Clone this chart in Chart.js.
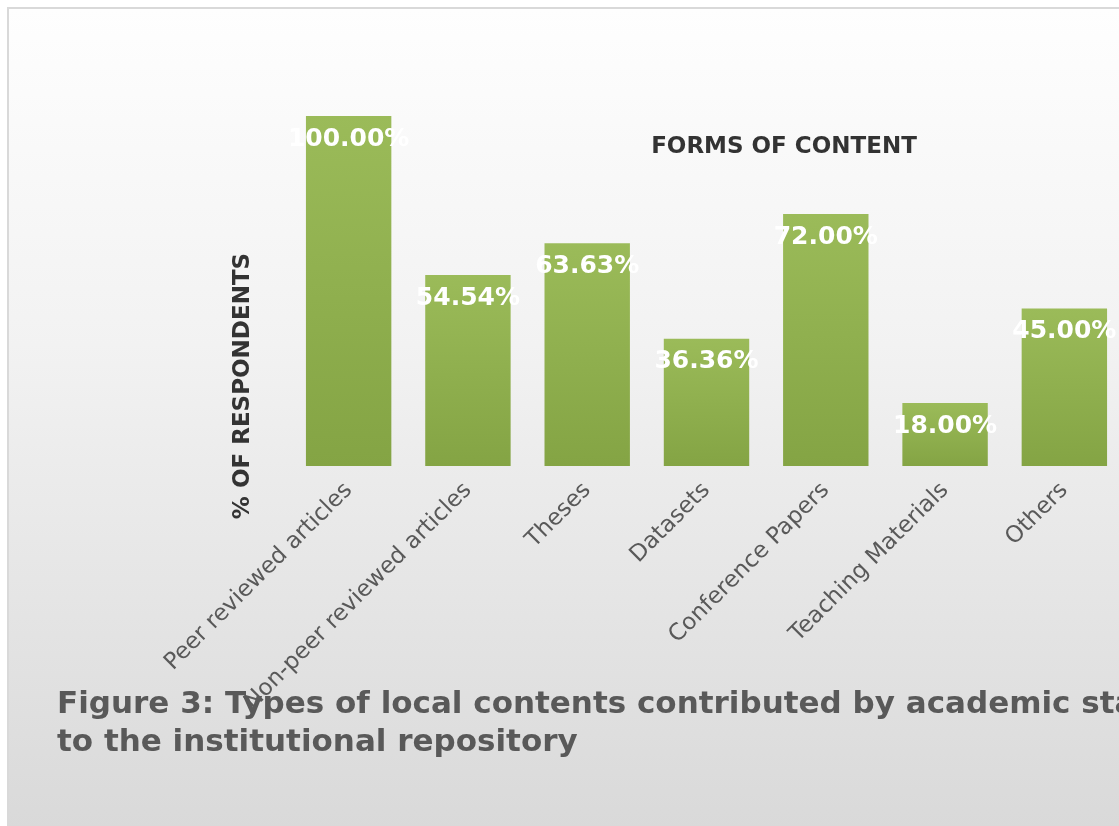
<!DOCTYPE html>
<html>
<head>
<meta charset="utf-8">
<script src="https://cdn.jsdelivr.net/npm/chart.js@4"></script>
<style>
  body { margin: 0; overflow: hidden; background: #fff; font-family: 'DejaVu Sans', sans-serif; }
  #frame {
    position: absolute; left: 7px; top: 7px; width: 1200px; height: 840px;
    border: 2px solid #d9d9d9;
    background: linear-gradient(#fefefe 0%, #f2f2f2 40%, #d8d8d8 100%);
  }
  #chart { position: absolute; left: 0; top: 0; }
  #caption {
    position: absolute; left: 57px; top: 683px;
    font: bold 31px 'DejaVu Sans', sans-serif; color: #595959;
    line-height: 38px; white-space: nowrap;
  }
</style>
</head>
<body>
<div id="frame"></div>
<canvas id="chart" width="1160" height="826"></canvas>
<div id="caption">Figure 3: Types of local contents contributed by academic staff<br>to the institutional repository</div>
<script>
// ========== Data ==========
const categories = ['Peer reviewed articles', 'Non-peer reviewed articles', 'Theses', 'Datasets',
  'Conference Papers', 'Teaching Materials', 'Others'];
const percentValues = [100.00, 54.54, 63.63, 36.36, 72.00, 18.00, 45.00];

const chartTitle = 'FORMS OF CONTENT';
const yTitle = '% OF RESPONDENTS';

// green gradient per bar, light at top, darker at base
function barFill(ctx) {
  const chart = ctx.chart;
  const area = chart.chartArea;
  if (!area) return '#9bbb59';
  const top = chart.scales.y.getPixelForValue(ctx.raw);
  const g = chart.ctx.createLinearGradient(0, top, 0, area.bottom);
  g.addColorStop(0, '#9bbb59');
  g.addColorStop(1, '#84a444');
  return g;
}

// value labels + chart title + y title
const textPlugin = {
  id: 'textPlugin',
  afterDatasetsDraw(chart) {
    const c = chart.ctx;
    const meta = chart.getDatasetMeta(0);
    c.save();
    c.fillStyle = '#ffffff';
    c.font = 'bold 25px "DejaVu Sans"';
    c.textAlign = 'center';
    c.textBaseline = 'middle';
    meta.data.forEach((bar, i) => {
      c.fillText(percentValues[i].toFixed(2) + '%', bar.x, bar.y + 23);
    });

    c.fillStyle = '#333333';
    c.font = 'bold 23px "DejaVu Sans"';
    c.fillText(chartTitle, 784, 147);

    c.translate(243, 386);
    c.rotate(-Math.PI / 2);
    c.fillText(yTitle, 0, 0);
    c.restore();
  }
};

new Chart(document.getElementById('chart'), {
  type: 'bar',
  data: {
    labels: categories,
    datasets: [{
      data: percentValues,
      backgroundColor: barFill,
      borderWidth: 0,
      barPercentage: 0.716,
      categoryPercentage: 1
    }]
  },
  options: {
    responsive: false,
    animation: false,
    layout: { padding: { left: 289, right: 36, top: 116, bottom: 60 } },
    plugins: { legend: { display: false }, tooltip: { enabled: false }, title: { display: false } },
    scales: {
      x: {
        grid: { display: false },
        border: { display: false },
        afterFit: (scale) => { scale.height = 300; },
        ticks: {
          autoSkip: false,
          minRotation: 45,
          maxRotation: 45,
          padding: 3,
          color: '#595959',
          font: { family: 'DejaVu Sans', size: 23 }
        }
      },
      y: {
        display: false,
        min: 0,
        max: 100
      }
    }
  },
  plugins: [textPlugin]
});
</script>
</body>
</html>
